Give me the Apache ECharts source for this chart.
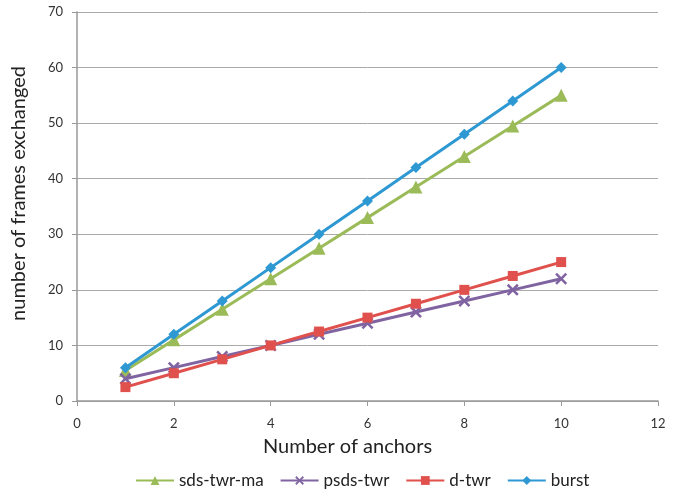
<!DOCTYPE html>
<html><head><meta charset="utf-8">
<script src="https://cdn.jsdelivr.net/npm/echarts@6/dist/echarts.min.js"></script>
<style>html,body{margin:0;padding:0;background:#fff}#c{width:689px;height:491px}</style>
</head><body><div id="c"></div>
<script>
const anchors = [1,2,3,4,5,6,7,8,9,10];
const sdsTwrMa = [5.5,11,16.5,22,27.5,33,38.5,44,49.5,55];
const psdsTwr = [4,6,8,10,12,14,16,18,20,22];
const dTwr = [2.5,5,7.5,10,12.5,15,17.5,20,22.5,25];
const burst = [6,12,18,24,30,36,42,48,54,60];
const names = ['sds-twr-ma','psds-twr','d-twr','burst'];
const colors = ['#9BBB59','#8064A2','#E0504D','#2E98D3'];
const xPath = 'path://M0,1.5L1.5,0L5,3.5L8.5,0L10,1.5L6.5,5L10,8.5L8.5,10L5,6.5L1.5,10L0,8.5L3.5,5Z';
const symbols = ['triangle', xPath, 'rect', 'diamond'];
const sizes = [13, 12, 10, 11];
const datasets = [sdsTwrMa, psdsTwr, dTwr, burst];
const font = 'Lato, "Open Sans", sans-serif';
const chart = echarts.init(document.getElementById('c'));
chart.setOption({
  animation:false,
  grid:{left:77,right:31,top:12,bottom:90},
  legend:{top:467,left:130,itemWidth:38,itemHeight:11,itemGap:16,
    textStyle:{fontFamily:font,fontSize:17,color:'#222'},
    data:names},
  xAxis:{type:'value',min:0,max:12,interval:2,name:'Number of anchors',nameLocation:'middle',nameGap:36,
    nameTextStyle:{fontFamily:font,fontSize:20,color:'#222',padding:[0,40,0,0]},
    axisLine:{lineStyle:{color:'#999',width:1.5}},axisTick:{show:true,length:5,lineStyle:{color:'#999'}},
    splitLine:{show:false},axisLabel:{fontFamily:font,fontSize:13,color:'#333',margin:16}},
  yAxis:{type:'value',min:0,max:70,interval:10,name:'number of frames exchanged',nameLocation:'middle',nameGap:48,
    nameTextStyle:{fontFamily:font,fontSize:20,color:'#222',padding:[0,0,0,26]},
    axisLine:{show:true,lineStyle:{color:'#999',width:1.5}},axisTick:{show:true,length:5,lineStyle:{color:'#999'}},
    splitLine:{lineStyle:{color:'#aaa',width:1}},axisLabel:{fontFamily:font,fontSize:13,color:'#333',margin:14}},
  series:datasets.map((d,i)=>({
    name:names[i],type:'line',data:anchors.map((x,j)=>[x,d[j]]),
    symbol:symbols[i],symbolSize:sizes[i],showAllSymbol:true,
    itemStyle:{color:colors[i]},lineStyle:{color:colors[i],width:3},z:i+2
  }))
});
</script></body></html>
